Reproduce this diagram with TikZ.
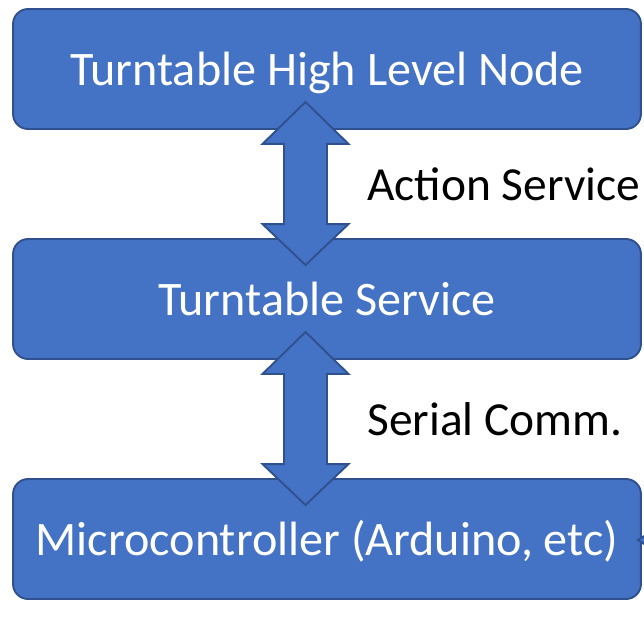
\documentclass[tikz,border=0pt]{standalone}
\usepackage{fontspec}
\setmainfont{Carlito}
\usetikzlibrary{calc}

\definecolor{boxblue}{HTML}{4472C4}
\definecolor{edgeblue}{HTML}{2F528F}

\begin{document}
\begin{tikzpicture}[x=0.02cm, y=-0.02cm,
	every node/.style={font=\fontsize{27}{32}\selectfont},
	box/.style={draw=edgeblue, fill=boxblue, line width=1.1pt, rounded corners=0.3cm,
		minimum width=12.56cm, minimum height=2.4cm, text=white,
		font=\fontsize{27.4}{32}\selectfont,
		text height=18.3pt, text depth=0pt, inner sep=0pt},
	bigarrow/.style={draw=edgeblue, fill=boxblue, line width=1.1pt}]
	\useasboundingbox (0,0) rectangle (644,616);
	\node[box] (high) at (327,69) {Turntable High Level Node};
	\node[box] (service) at (327,299) {Turntable Service};
	\node[box] (micro) at (327,539) {Microcontroller (Arduino, etc)};
	\coordinate (axis) at (305.5,0);
	% double arrows between the boxes
	\foreach \u/\v in {high/service, service/micro} {
		\coordinate (t) at ($(\u.south -| axis)+(0,-28)$);
		\coordinate (b) at ($(\v.north -| axis)+(0,27)$);
		\draw[bigarrow] (t) -- ($(t)+(43,42)$) -- ($(t)+(21.5,42)$) -- ($(b)+(21.5,-41)$)
			-- ($(b)+(43,-41)$) -- (b) -- ($(b)+(-43,-41)$) -- ($(b)+(-21.5,-41)$)
			-- ($(t)+(-21.5,42)$) -- ($(t)+(-43,42)$) -- cycle;
	}
	\node[anchor=base west, inner sep=0pt] (action) at (367,200) {Action Service};
	\node[anchor=base west, inner sep=0pt] (serial) at (367,435) {Serial Comm.};
	\draw[bigarrow] (638,540) -- (652,531) -- (652,549) -- cycle;
\end{tikzpicture}
\end{document}
